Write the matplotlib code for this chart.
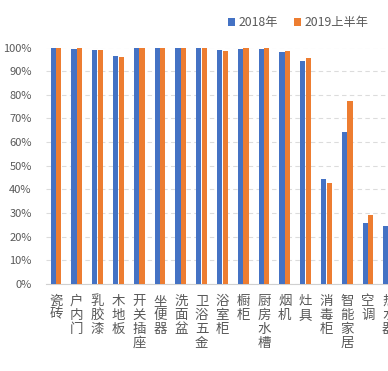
import numpy as np
import matplotlib
matplotlib.use("Agg")
import matplotlib.pyplot as plt
from matplotlib.ticker import PercentFormatter

plt.rcParams['font.family'] = ['Noto Sans CJK SC', 'DejaVu Sans']

# data
categories = ["瓷砖", "户内门", "乳胶漆", "木地板", "开关插座", "坐便器", "洗面盆", "卫浴五金",
              "浴室柜", "橱柜", "厨房水槽", "烟机", "灶具", "消毒柜", "智能家居", "空调", "热水器"]
y2018 = [99.7, 99.2, 98.9, 96.5, 99.9, 99.9, 99.7, 99.7, 98.9, 99.2, 99.2, 98.2, 94.3, 44.3, 64.4, 25.7, 24.7]
y2019h1 = [99.7, 99.9, 98.9, 95.9, 99.7, 99.6, 99.7, 99.7, 98.5, 99.7, 99.7, 98.5, 95.4, 42.8, 77.5, 29.2, 25.0]
series_names = ["2018年", "2019上半年"]

blue = "#4472C4"
orange = "#ED7D31"
grey = "#595959"

W, H = 388, 371
fig = plt.figure(figsize=(W / 100, H / 100), dpi=100)
# axes runs past the right edge of the picture, like the cropped original
left_px, cat_px = 45.6, 20.8
bottom_px, top_px = 284, 47.5
ax = fig.add_axes([left_px / W, (H - bottom_px) / H,
                   len(categories) * cat_px / W, (bottom_px - top_px) / H])

x = np.arange(len(categories))
bw = 0.25
ax.bar(x - 0.135, y2018, bw, color=blue, label=series_names[0], zorder=3)
ax.bar(x + 0.135, y2019h1, bw, color=orange, label=series_names[1], zorder=3)

ax.set_xlim(-0.5, len(categories) - 0.5)
ax.set_ylim(0, 100)
ax.set_yticks(np.arange(0, 101, 10))
ax.yaxis.set_major_formatter(PercentFormatter(decimals=0))
ax.grid(axis='y', color="#dcdcdc", linestyle=(0, (4, 3)), linewidth=0.8, zorder=0)

ax.set_xticks(x)
ax.set_xticklabels(["\n".join(c) for c in categories], va='top', linespacing=1.0)

for s in ["top", "right", "left"]:
    ax.spines[s].set_visible(False)
ax.spines["bottom"].set_color("#d0d0d0")
ax.tick_params(axis='y', length=0, pad=10, labelsize=8, labelcolor=grey)
ax.tick_params(axis='x', length=0, pad=7, labelsize=9.7, labelcolor=grey)

fig.legend(loc='upper right', bbox_to_anchor=(380 / W, 1 - 5 / H), ncol=2, frameon=False,
           fontsize=8.8, handlelength=0.6, handleheight=0.6, handletextpad=0.3,
           columnspacing=1.3, labelcolor=grey)

fig.savefig("out.png", dpi=100)
